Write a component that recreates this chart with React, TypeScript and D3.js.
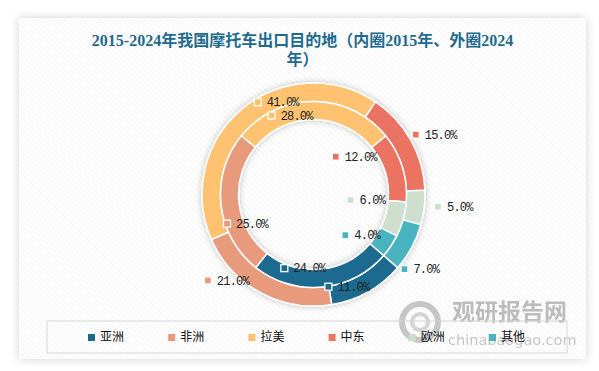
import React from 'react'
import * as d3 from 'd3'

const width = 599
const height = 371

// ------- data -------//
const categories = ['亚洲', '非洲', '拉美', '中东', '欧洲', '其他']
const values2015 = [24, 25, 28, 12, 6, 4]   // inner ring
const values2024 = [11, 21, 41, 15, 5, 7]   // outer ring
const colors = ['#1C6B8F', '#E89A7B', '#FEC26F', '#EA7362', '#CEDFCD', '#4AB3BF']
const titleLines = ['2015-2024年我国摩托车出口目的地（内圈2015年、外圈2024', '年）']

// label nudges from the slice centroid (px)
const outerNudge = [[-35, 3], [-57, -4], [10, -14], [13, -10], [23, 0], [1, 26]]
const innerNudge = [[-37, -10], [-3, 20], [-42, 5], [-58, -13], [-44, -17], [-38, -6]]

const cx = 313.5
const cy = 194.5
const holeR = 75
const midR = 93
const outerR = 111.5
const start = (131 * Math.PI) / 180

const pie = d3.pie<number>().sort(null).startAngle(start).endAngle(start + 2 * Math.PI)
const innerArc = d3.arc<d3.PieArcDatum<number>>().innerRadius(holeR).outerRadius(midR)
const outerArc = d3.arc<d3.PieArcDatum<number>>().innerRadius(midR).outerRadius(outerR)

const legendX = d3.scalePoint<string>().domain(categories).range([91, 492])

function Labels({ arcs, arc, nudge }: any) {
  return (
    <g>
      {arcs.map((a: any, i: number) => {
        const [x, y] = arc.centroid(a)
        const mx = cx + x + nudge[i][0]
        const my = cy + y + nudge[i][1]
        return (
          <g key={i}>
            <rect x={mx - 3.5} y={my - 3.5} width={7} height={7} fill={colors[i]} stroke="#fff" strokeWidth={1.3} />
            <text x={mx + 9} y={my + 1} dominantBaseline="middle" fontSize={12} letterSpacing={-0.8}
              fontFamily="'Liberation Mono', monospace" fill="#222">
              {a.data.toFixed(1) + '%'}
            </text>
          </g>
        )
      })}
    </g>
  )
}

export default function App() {
  const inner = pie(values2015)
  const outer = pie(values2024)

  return (
    <svg width={width} height={height} style={{ position: 'absolute', left: 0, top: 0, background: '#fff' }}>
      <defs>
        <pattern id="hatch" width={4} height={4} patternUnits="userSpaceOnUse" patternTransform="rotate(-45)">
          <line x1={0} y1={0} x2={0} y2={4} stroke="#ececec" strokeWidth={1.2} />
        </pattern>
        <filter id="cardShadow" x="-10%" y="-10%" width="120%" height="120%">
          <feDropShadow dx={0} dy={0} stdDeviation={5} floodColor="#000" floodOpacity={0.18} />
        </filter>
        <filter id="ringShadow" x="-20%" y="-20%" width="140%" height="140%">
          <feDropShadow dx={0} dy={0} stdDeviation={3} floodColor="#000" floodOpacity={0.25} />
        </filter>
      </defs>

      {/* card */}
      <rect x={19} y={18} width={567} height={341} fill="#fff" filter="url(#cardShadow)" />
      <rect x={19} y={18} width={567} height={341} fill="url(#hatch)" />

      {/* title */}
      <text textAnchor="middle" fill="#1F6A8D" fontSize={16} fontWeight="bold"
        fontFamily="'Liberation Serif', 'Noto Sans CJK SC', serif">
        {titleLines.map((t, i) => (
          <tspan key={i} x={302.5} y={46 + i * 19}>{t}</tspan>
        ))}
      </text>

      {/* donut */}
      <g transform={`translate(${cx},${cy})`} filter="url(#ringShadow)">
        {outer.map((a, i) => (
          <path key={'o' + i} d={outerArc(a) as string} fill={colors[i]} stroke="#fff" strokeWidth={1.5} />
        ))}
        {inner.map((a, i) => (
          <path key={'i' + i} d={innerArc(a) as string} fill={colors[i]} stroke="#fff" strokeWidth={1.5} />
        ))}
      </g>

      <Labels arcs={outer} arc={outerArc} nudge={outerNudge} />
      <Labels arcs={inner} arc={innerArc} nudge={innerNudge} />

      {/* watermark */}
      <g opacity={0.55}>
        <circle cx={420} cy={322} r={18} fill="none" stroke="#9a9a9a" strokeWidth={6} />
        <circle cx={420} cy={322} r={8} fill="none" stroke="#b5b5b5" strokeWidth={4} />
        <text x={452} y={320} fontSize={23} fontWeight="bold" fill="#888"
          fontFamily="'Noto Sans CJK SC', sans-serif">观研报告网</text>
        <text x={448} y={345} fontSize={14.5} fill="#999"
          fontFamily="'DejaVu Sans', sans-serif">chinabaogao.com</text>
      </g>

      {/* legend */}
      <rect x={47} y={321} width={520} height={32} fill="none" stroke="#d6d6d6" strokeWidth={1} />
      {categories.map((c, i) => (
        <g key={c}>
          <rect x={(legendX(c) as number) - 3} y={334} width={7} height={7} fill={colors[i]} />
          <text x={(legendX(c) as number) + 9} y={338} dominantBaseline="middle" fontSize={12} fill="#111"
            fontFamily="'Noto Sans CJK SC', sans-serif">{c}</text>
        </g>
      ))}
    </svg>
  )
}
